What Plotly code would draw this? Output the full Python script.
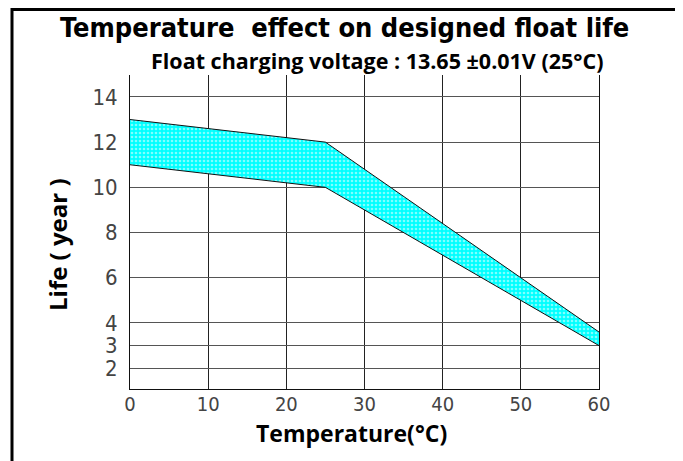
import plotly.graph_objects as go

temperature = [0, 25, 60]
life_upper = [13.0, 12.0, 3.6]
life_lower = [11.0, 10.0, 3.0]
x_ticks = [0, 10, 20, 30, 40, 50, 60]
y_ticks = [2, 3, 4, 6, 8, 10, 12, 14]

title_text = "Temperature  effect on designed float life"
subtitle_text = "Float charging voltage : 13.65 ±0.01V (25°C)"
x_title = "Temperature(°C)"
y_title = "Life ( year )"

fig = go.Figure()
fig.add_trace(go.Scatter(
    x=temperature, y=life_lower, mode="lines",
    line=dict(color="#111111", width=1), showlegend=False, hoverinfo="skip",
))
fig.add_trace(go.Scatter(
    x=temperature, y=life_upper, mode="lines",
    line=dict(color="#111111", width=1), fill="tonexty",
    fillcolor="#00FFFF",
    fillpattern=dict(shape=".", bgcolor="#00FFFF", fgcolor="#FFFFFF",
                     size=4, solidity=0.35, fillmode="overlay"),
    showlegend=False, hoverinfo="skip",
))

narrow = "DejaVu Sans Condensed, Roboto, sans-serif"
bold_family = "Open Sans, Noto Sans, sans-serif"

# page body has an 8px margin; layout is expressed in figure pixels
L, R, T, B = 122, 92, 67, 80
PW = 683 - L - R
PH = 461 - T - B

def px(xf):
    return (xf - L) / PW

def py(yf):
    return 1 - (yf - T) / PH

fig.update_layout(
    width=683, height=461,
    autosize=False,
    margin=dict(l=L, r=R, t=T, b=B),
    paper_bgcolor="white",
    plot_bgcolor="white",
    xaxis=dict(
        range=[0, 60], tickvals=x_ticks, ticktext=[str(v) for v in x_ticks],
        showgrid=True, gridcolor="#222222", gridwidth=1,
        showline=True, linecolor="#111111", linewidth=1,
        zeroline=False, ticks="", ticklabelstandoff=-3,
        tickfont=dict(family=narrow, size=20, color="#444444", weight=300),
    ),
    yaxis=dict(
        range=[1.08, 14.97], tickvals=y_ticks, ticktext=[str(v) for v in y_ticks],
        showgrid=True, gridcolor="#555555", gridwidth=1,
        showline=True, linecolor="#111111", linewidth=1, mirror=True,
        zeroline=False, ticks="outside", ticklen=7, tickcolor="rgba(0,0,0,0)",
        tickfont=dict(family=narrow, size=22, color="#444444", weight=300),
    ),
    annotations=[
        dict(text="<b>" + title_text + "</b>", xref="paper", yref="paper",
             x=px(336), y=py(20), xanchor="center", yanchor="middle",
             showarrow=False,
             font=dict(family=narrow, size=27, color="black")),
        dict(text="<b>" + subtitle_text + "</b>", xref="paper", yref="paper",
             x=px(369), y=py(52.5), xanchor="center", yanchor="middle",
             showarrow=False,
             font=dict(family=bold_family, size=21.5, color="black")),
        dict(text="<b>" + x_title + "</b>", xref="paper", yref="paper",
             x=px(343), y=py(425), xanchor="center", yanchor="middle",
             showarrow=False,
             font=dict(family=bold_family, size=23, color="black")),
        dict(text="<b>" + y_title + "</b>", xref="paper", yref="paper",
             x=px(49), y=py(237), xanchor="center", yanchor="middle",
             showarrow=False, textangle=-90,
             font=dict(family=bold_family, size=24, color="black")),
    ],
    shapes=[
        dict(type="rect", xref="paper", yref="paper",
             x0=px(4), x1=px(670), y0=-0.4, y1=py(1.5),
             line=dict(color="black", width=3), fillcolor="rgba(0,0,0,0)", layer="below"),
    ],
)

fig.write_html("out.html")
